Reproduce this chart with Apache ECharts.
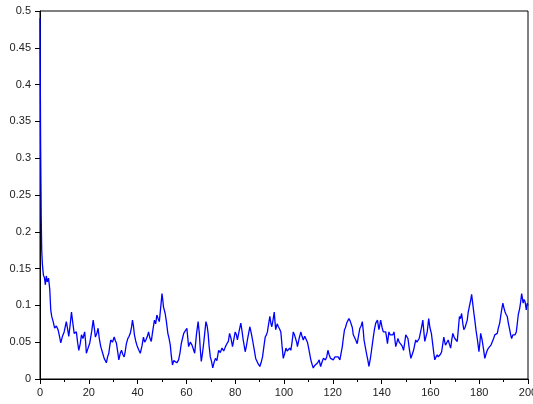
<!DOCTYPE html>
<html><head><meta charset="utf-8">
<script src="https://cdn.jsdelivr.net/npm/echarts@6/dist/echarts.min.js"></script>
<style>html,body{margin:0;padding:0;background:#fff}#c{width:533px;height:404px}</style>
</head><body><div id="c"></div>
<script>
const xTicks = [0,20,40,60,80,100,120,140,160,180,200];
const yTicks = [0,0.05,0.1,0.15,0.2,0.25,0.3,0.35,0.4,0.45,0.5];
const tValues = [0,0.25,0.5,0.7,1.0,1.4,1.8,2.2,2.6,3.0,3.5,4.0,4.4,4.8,5.4,6,6.7,7.4,8,8.5,9.2,9.9,10.4,10.8,11.3,11.8,12.4,12.9,13.5,14,14.9,15.4,15.9,16.5,17,17.6,18.3,18.7,19,19.7,20.4,21.2,21.8,22.3,22.7,23.3,23.8,24.3,24.9,25.6,26.3,26.8,27.2,27.7,28.2,28.6,29,29.7,30.4,30.9,31.3,31.8,32.3,32.9,33.4,34,34.5,34.9,35.4,36,36.5,37,37.5,37.9,38.3,38.7,39.2,39.7,40.4,41.1,41.8,42.4,42.9,43.4,44,44.5,45,45.6,46.2,46.9,47.4,47.9,48.4,48.9,49.4,50,50.3,50.6,51.3,51.8,52.4,52.9,53.4,53.8,54.3,54.8,55.4,56.1,56.8,57.4,57.9,58.4,58.9,59.5,60.2,60.9,61.6,62.3,62.9,63.4,64.1,64.8,65.3,65.7,66.1,66.6,67.1,67.6,68,68.5,68.9,69.3,69.8,70.3,70.8,71.3,71.9,72.5,73.2,73.9,74.6,75.3,76,76.6,77.2,77.7,78.3,78.9,79.5,80,80.5,80.9,81.6,82.3,82.8,83.2,84.1,84.6,85,85.5,86,86.6,87.1,87.8,88.4,89.2,90.1,90.6,91.2,91.8,92.3,92.8,93.2,93.7,94.2,94.6,95,95.5,96,96.3,96.6,97.2,97.7,98.2,98.7,99.2,99.7,100.3,100.8,101.3,101.8,102.3,102.8,103.3,103.8,104.3,104.8,105.2,105.5,106.2,106.9,107.4,107.9,108.5,109,109.6,110.1,110.6,111,111.5,112,112.5,113.1,113.8,114.4,115,115.5,116.1,117,117.5,118,118.5,119.1,119.6,120.2,120.9,121.6,122.2,122.9,123.4,123.9,124.3,124.8,125.2,125.7,126.2,126.6,127.1,127.6,128,128.4,128.9,129.4,130,130.6,131.1,131.6,132.1,132.5,132.8,133.4,133.9,134.4,134.8,135.3,135.8,136.2,136.6,137.1,137.6,138.3,138.9,139.2,139.6,140.2,140.7,141.2,141.7,142.1,142.4,143,143.5,144,144.6,145.1,145.5,145.8,146.3,146.7,147.2,147.8,148.4,149,149.5,149.9,150.4,150.8,151.4,152,152.6,153.1,153.6,154,154.5,155,155.4,155.8,156.3,156.9,157.3,157.7,158.2,158.7,159.3,159.8,160.4,161,161.4,161.8,162.3,162.8,163.2,163.7,164.2,164.6,165.1,165.5,165.9,166.2,166.8,167.3,167.8,168.3,168.7,169.2,169.6,170,170.5,171,171.5,171.9,172.3,172.8,173.3,173.7,174.2,174.7,175.1,175.5,176,176.5,176.9,177.4,177.8,178.2,178.7,179.2,179.6,179.9,180.3,180.6,181.2,181.8,182.3,182.8,183.3,183.8,184.3,184.8,185.3,185.9,186.4,186.9,187.4,187.9,188.4,188.8,189.2,189.7,190.1,190.6,191,191.5,192,192.5,192.9,193.3,193.8,194.3,194.7,195.2,195.6,196,196.6,197,197.4,197.7,198,198.4,198.8,199.3,199.7,200];
const yValues = [0.49,0.32,0.22,0.175,0.155,0.141,0.138,0.128,0.14,0.132,0.137,0.122,0.094,0.085,0.078,0.069,0.072,0.067,0.058,0.049,0.058,0.064,0.072,0.078,0.068,0.058,0.075,0.091,0.075,0.062,0.064,0.05,0.039,0.048,0.06,0.055,0.064,0.05,0.035,0.042,0.049,0.065,0.08,0.068,0.057,0.062,0.069,0.055,0.044,0.036,0.028,0.03,0.022,0.03,0.035,0.045,0.053,0.05,0.057,0.052,0.049,0.038,0.026,0.035,0.039,0.033,0.03,0.037,0.048,0.055,0.058,0.062,0.07,0.08,0.072,0.06,0.052,0.046,0.04,0.035,0.045,0.057,0.05,0.053,0.058,0.064,0.056,0.051,0.065,0.08,0.075,0.087,0.082,0.078,0.095,0.116,0.108,0.098,0.089,0.078,0.062,0.055,0.046,0.032,0.019,0.025,0.026,0.022,0.026,0.036,0.048,0.055,0.062,0.06,0.069,0.044,0.05,0.046,0.04,0.035,0.06,0.078,0.062,0.04,0.024,0.035,0.049,0.065,0.078,0.072,0.062,0.045,0.03,0.024,0.015,0.022,0.028,0.025,0.039,0.036,0.042,0.038,0.044,0.048,0.051,0.062,0.055,0.044,0.055,0.064,0.06,0.053,0.065,0.076,0.065,0.055,0.037,0.045,0.053,0.062,0.071,0.062,0.053,0.04,0.028,0.022,0.017,0.022,0.03,0.045,0.057,0.06,0.064,0.075,0.085,0.076,0.071,0.08,0.091,0.078,0.067,0.075,0.071,0.068,0.064,0.045,0.028,0.035,0.042,0.038,0.037,0.042,0.039,0.05,0.064,0.06,0.062,0.05,0.044,0.055,0.064,0.058,0.053,0.058,0.06,0.05,0.042,0.033,0.026,0.02,0.015,0.018,0.017,0.022,0.026,0.017,0.019,0.028,0.026,0.03,0.039,0.033,0.028,0.03,0.026,0.03,0.028,0.03,0.026,0.035,0.044,0.055,0.067,0.07,0.076,0.078,0.082,0.079,0.078,0.07,0.06,0.058,0.053,0.048,0.06,0.069,0.072,0.078,0.065,0.053,0.042,0.033,0.025,0.017,0.026,0.037,0.047,0.057,0.068,0.076,0.08,0.067,0.072,0.08,0.07,0.064,0.066,0.064,0.055,0.048,0.064,0.06,0.062,0.06,0.064,0.052,0.044,0.05,0.055,0.05,0.051,0.045,0.039,0.05,0.06,0.058,0.055,0.04,0.028,0.034,0.039,0.047,0.053,0.05,0.048,0.055,0.057,0.069,0.08,0.065,0.051,0.058,0.064,0.082,0.07,0.062,0.046,0.035,0.026,0.03,0.033,0.03,0.03,0.034,0.037,0.048,0.057,0.05,0.046,0.05,0.053,0.047,0.042,0.052,0.062,0.058,0.055,0.053,0.051,0.07,0.085,0.082,0.089,0.075,0.067,0.07,0.071,0.08,0.091,0.099,0.107,0.115,0.101,0.09,0.08,0.066,0.055,0.045,0.037,0.05,0.062,0.053,0.04,0.028,0.034,0.039,0.042,0.044,0.046,0.048,0.055,0.06,0.059,0.062,0.07,0.076,0.085,0.094,0.103,0.097,0.091,0.088,0.085,0.075,0.067,0.06,0.055,0.06,0.062,0.06,0.064,0.075,0.087,0.096,0.105,0.116,0.11,0.103,0.108,0.105,0.094,0.103,0.1];

const chart = echarts.init(document.getElementById('c'), null, {renderer:'canvas'});
const data = tValues.map((t,i)=>[t,yValues[i]]);
const labelStyle = {color:'#222', fontFamily:'Liberation Sans, Arial, sans-serif', fontSize:11};
chart.setOption({
  animation:false,
  grid:{left:40,right:5,top:11,bottom:25,show:true,borderColor:'#000',borderWidth:1,containLabel:false,outerBoundsMode:'none'},
  xAxis:{type:'value',min:xTicks[0],max:xTicks[xTicks.length-1],interval:20,
    axisLine:{show:true,onZero:false,lineStyle:{color:'#000',width:1}},
    axisTick:{show:true,length:5,inside:false,lineStyle:{color:'#000'}},
    minorTick:{show:true,splitNumber:2,length:3,lineStyle:{color:'#000'}},
    splitLine:{show:false},
    axisLabel:Object.assign({margin:8,showMaxLabel:true,showMinLabel:true,hideOverlap:false},labelStyle)},
  yAxis:{type:'value',min:yTicks[0],max:yTicks[yTicks.length-1],interval:0.05,
    axisLine:{show:true,onZero:false,lineStyle:{color:'#000',width:1}},
    axisTick:{show:true,length:5,inside:false,lineStyle:{color:'#000'}},
    splitLine:{show:false},
    axisLabel:Object.assign({margin:9},labelStyle)},
  series:[{type:'line',data:data,showSymbol:false,symbol:'none',
    lineStyle:{color:'#0000ff',width:1.3},clip:true}]
});
</script></body></html>
